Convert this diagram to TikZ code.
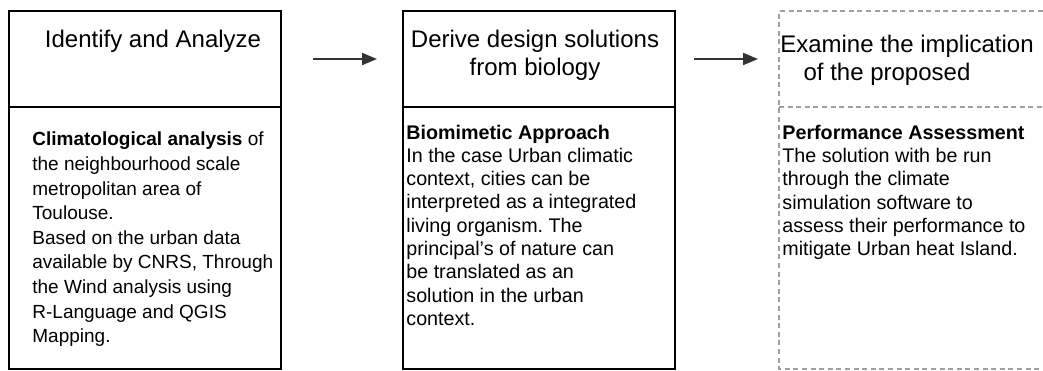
\documentclass[tikz,border=0pt]{standalone}
\usepackage{fontspec}
\setmainfont{Liberation Sans}
\usetikzlibrary{positioning, arrows.meta}
\frenchspacing

\begin{document}
\begin{tikzpicture}[
    x=1pt, y=1pt,
    % Box styles (head part and body part of each step)
    headbox/.style={draw=black, line width=1.2pt, rectangle, minimum width=136pt, minimum height=48pt, inner sep=0pt, outer sep=0pt},
    bodybox/.style={draw=black, line width=1.2pt, rectangle, minimum width=136pt, minimum height=131pt, inner sep=0pt, outer sep=0pt},
    open_line/.style={draw=gray!75, line width=0.6pt, dash pattern=on 2.5pt off 1.8pt},
    % Text styles (base = baseline of the last line)
    title_text/.style={font=\fontsize{12}{14}\selectfont, align=center, inner sep=0pt, anchor=base},
    body_text/.style={font=\fontsize{9.85}{11.65}\selectfont, align=left, inner sep=0pt, anchor=base west},
    % Arrow style
    flow_arrow/.style={-{Triangle[length=7.5pt, width=6pt]}, line width=1pt, draw=black!80}
]
    \useasboundingbox (0,0) rectangle (521.5,-185);

    % ==================== Step 1: Identify ====================
    \node (identify) at (4.5,-5.5) [headbox, anchor=north west] {};
    \node (climate) [bodybox, below=0pt of identify] {};

    \node (identify_title) at ([xshift=4pt, yshift=-18pt]identify.north) [title_text] {Identify and Analyze};
    \node (climate_text) at ([xshift=11.5pt, yshift=-117.8pt]climate.north west) [body_text, font=\fontsize{9.5}{12.3}\selectfont] {\textbf{Climatological analysis} of\\the neighbourhood scale\\metropolitan area of\\Toulouse.\\Based on the urban data\\available by CNRS, Through\\the Wind analysis using\\R-Language and QGIS\\Mapping.};

    % ==================== Step 2: Derive ====================
    \node (derive) [headbox, right=61pt of identify] {};
    \node (approach) [bodybox, below=0pt of derive] {};

    \node (derive_title) at ([xshift=-2pt, yshift=-32pt]derive.north) [title_text] {Derive design solutions\\from biology};
    \node (approach_text) at ([xshift=1.5pt, yshift=-109.2pt]approach.north west) [body_text] {\textbf{Biomimetic Approach}\\In the case Urban climatic\\context, cities can be\\interpreted as a integrated\\living organism. The\\principal's of nature can\\be translated as an\\solution in the urban\\context.};

    % ==================== Step 3: Examine (open, dashed) ====================
    \node (examine) [headbox, draw=none, minimum width=132pt, right=52pt of derive] {};
    \node (assess) [bodybox, draw=none, minimum width=132pt, below=0pt of examine] {};
    \draw [open_line] (examine.north east) -- (examine.north west) -- (assess.south west) -- (assess.south east);
    \draw [open_line] (examine.south west) -- (examine.south east);

    \node (examine_title) at ([xshift=-2pt, yshift=-34.5pt]examine.north) [title_text] {Examine the implication\\of the proposed\hspace*{20pt}};
    \node (assess_text) at ([xshift=1.5pt, yshift=-74.3pt]assess.north west) [body_text] {\textbf{Performance Assessment}\\The solution with be run\\through the climate\\simulation software to\\assess their performance to\\mitigate Urban heat Island.};

    % Arrows between steps
    \draw [flow_arrow] ([xshift=16pt]identify.east) -- ([xshift=-13pt]derive.west);
    \draw [flow_arrow] ([xshift=9.5pt]derive.east) -- ([xshift=-10.5pt]examine.west);

\end{tikzpicture}
\end{document}
